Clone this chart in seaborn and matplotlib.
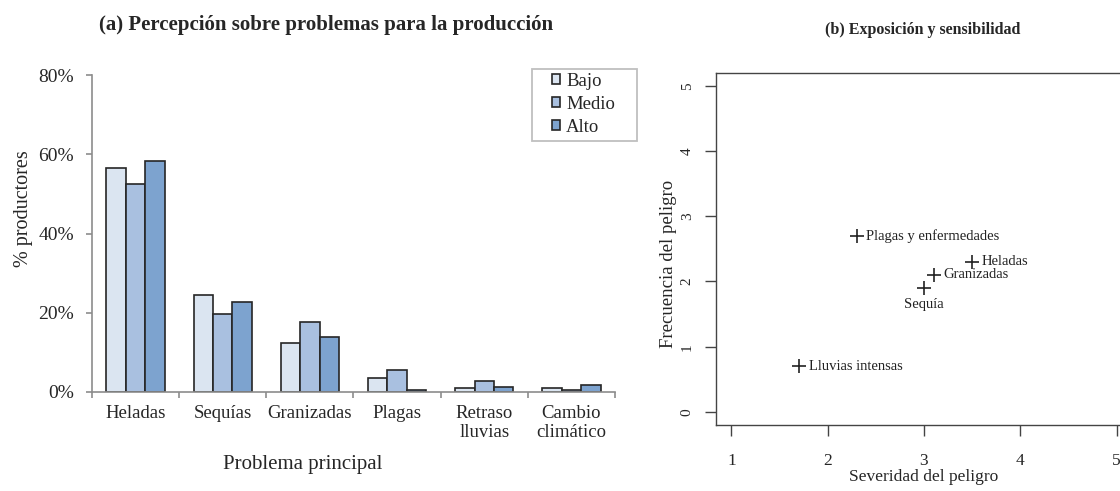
import matplotlib
matplotlib.use("Agg")
import matplotlib.pyplot as plt
import numpy as np
import pandas as pd
import seaborn as sns
from matplotlib.patches import Patch, Rectangle

sns.set_style("white")
plt.rcParams["font.family"] = ["Liberation Serif", "DejaVu Serif"]

# ---- Panel (a): perceived main production problem, by exposure level ----
problemas = ["Heladas", "Sequías", "Granizadas", "Plagas",
             "Retraso\nlluvias", "Cambio\nclimático"]
niveles = ["Bajo", "Medio", "Alto"]
pct_bajo = [56.5, 24.4, 12.3, 3.6, 0.9, 0.9]
pct_medio = [52.5, 19.7, 17.7, 5.6, 2.9, 0.5]
pct_alto = [58.2, 22.6, 14.0, 0.5, 1.3, 1.8]
colores = ["#DBE5F1", "#A9C0E0", "#7DA3CF"]
yticks_a = [0, 20, 40, 60, 80]

# ---- Panel (b): hazard severity vs frequency ----
peligros = ["Plagas y enfermedades", "Heladas", "Granizadas", "Sequía",
            "Lluvias intensas"]
severidad = [2.3, 3.5, 3.1, 3.0, 1.7]
frecuencia = [2.7, 2.3, 2.1, 1.9, 0.7]
ticks_b = [0, 1, 2, 3, 4, 5]

df_a = pd.DataFrame({
    "problema": np.repeat(problemas, 3),
    "nivel": niveles * len(problemas),
    "pct": np.ravel(np.column_stack([pct_bajo, pct_medio, pct_alto])),
})
df_b = pd.DataFrame({"sev": severidad, "frec": frecuencia, "peligro": peligros})

W, H = 1120, 491
fig = plt.figure(figsize=(W / 100, H / 100), dpi=100)

def box(l, r, t, b):
    return [l / W, 1 - b / H, (r - l) / W, (b - t) / H]

# ---------------- left panel ----------------
ax = fig.add_axes(box(92, 615, 75, 392))
sns.barplot(data=df_a, x="problema", y="pct", hue="nivel",
            order=problemas, hue_order=niveles, palette=colores,
            width=0.67, edgecolor="#262626", linewidth=1.2,
            saturation=1, legend=False, ax=ax)
ax.set_xlim(-0.5, len(problemas) - 0.5)
ax.set_ylim(0, 80)
ax.set_yticks(yticks_a)
ax.set_yticklabels([f"{v}%" for v in yticks_a])
ax.set_xticks(np.arange(-0.5, len(problemas)), minor=True)
grey = "#8c8c8c"
for s in ["top", "right"]:
    ax.spines[s].set_visible(False)
for s in ["left", "bottom"]:
    ax.spines[s].set_color(grey)
    ax.spines[s].set_linewidth(1.2)
ax.tick_params(axis="y", which="major", left=True, length=4, width=1.2,
               color=grey, pad=9, labelsize=14)
ax.tick_params(axis="x", which="major", bottom=False, length=0, pad=9,
               labelsize=13.5)
ax.tick_params(axis="x", which="minor", bottom=True, length=4.5, width=1.2,
               color=grey)
ax.set_xlabel("Problema principal", fontsize=15)
ax.xaxis.set_label_coords((303 - 92) / 523, (392 - 455) / 317)
ax.set_ylabel("% productores", fontsize=14.5)
ax.yaxis.set_label_coords(-0.112, 0.58)
fig.text(326 / W, 1 - 25 / H,
         "(a) Percepción sobre problemas para la producción",
         ha="center", va="center", fontsize=15, fontweight="bold")

# legend: entries plus a plain light-grey box around them
handles = [Patch(facecolor=c, edgecolor="#262626", linewidth=1.2)
           for c in colores]
fig.legend(handles, niveles, loc="upper left",
           bbox_to_anchor=(552 / W, 1 - 72.5 / H),
           frameon=False, fontsize=13.5,
           handlelength=0.45, handleheight=0.45, handletextpad=0.3,
           labelspacing=0.32, borderpad=0, borderaxespad=0)
fig.add_artist(Rectangle((531.7 / W, 1 - 141 / H), 105.6 / W, 71.7 / H,
                         transform=fig.transFigure, facecolor="none",
                         edgecolor="#bfbfbf", linewidth=1.3))

# ---------------- right panel ----------------
bx = fig.add_axes(box(716, 1132, 72.7, 425))
sns.scatterplot(data=df_b, x="sev", y="frec", marker="+", s=110,
                color="#222222", linewidth=1.2, ax=bx)
bx.set_xlim(0.84, 5.16)
bx.set_ylim(-0.2, 5.2)
bx.set_xticks([1, 2, 3, 4, 5])
bx.set_yticks(ticks_b)
for s in bx.spines.values():
    s.set_color("#444444")
    s.set_linewidth(1.0)
bx.tick_params(axis="both", length=8, width=1.0, color="#444444",
               direction="out")
bx.tick_params(axis="x", bottom=True, pad=12, labelsize=12.5)
bx.tick_params(axis="y", left=True, pad=8, labelsize=11)
for lbl in bx.get_yticklabels():
    lbl.set_rotation(90)
    lbl.set_va("center")
bx.set_xlabel("Severidad del peligro", fontsize=12.5, labelpad=0)
bx.set_ylabel("Frecuencia del peligro", fontsize=13.5)
bx.yaxis.set_label_coords(-0.094, (425 - 264) / 352.3)

for name, xs, ys in zip(peligros, severidad, frecuencia):
    if name == "Sequía":
        bx.annotate(name, (xs, ys), xytext=(0, -12), textcoords="offset points",
                    ha="center", va="center", fontsize=10.5, color="#222222")
    else:
        bx.annotate(name, (xs, ys), xytext=(7, 0), textcoords="offset points",
                    ha="left", va="center", fontsize=10.5, color="#222222")

fig.text(923 / W, 1 - 30 / H, "(b) Exposición y sensibilidad",
         ha="center", va="center", fontsize=11.5, fontweight="bold")

fig.savefig("out.png", dpi=100)
